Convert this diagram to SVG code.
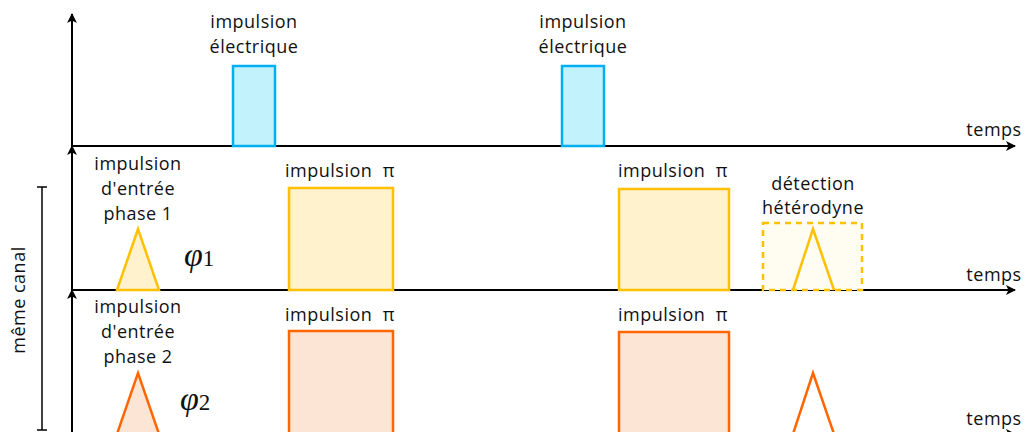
<svg xmlns="http://www.w3.org/2000/svg" width="1025" height="432" viewBox="0 0 1025 432">
<defs>
<marker id="ah" viewBox="0 0 10 10" refX="9" refY="5" markerWidth="10" markerHeight="10" markerUnits="userSpaceOnUse" orient="auto">
<path d="M0,0 L10,5 L0,10 L2.5,5 Z" fill="#000"/>
</marker>
</defs>
<style>
text{font-family:"Open Sans","Noto Sans",sans-serif;font-size:18px;letter-spacing:0.5px;fill:#111;text-anchor:middle}
.axis{stroke:#000;stroke-width:2;fill:none}
.blue{fill:#c2f2fc;stroke:#00b0f0;stroke-width:2.5}
.yel{fill:#fff2cc;stroke:#ffc000;stroke-width:2.5}
.org{fill:#fde5d5;stroke:#ff6600;stroke-width:2.5}
.dash{fill:#fffcf2;stroke:#ffc000;stroke-width:2.5;stroke-dasharray:6 5}
.phi{font-family:"Liberation Serif","DejaVu Serif",serif;font-style:italic;font-size:34px;letter-spacing:0;text-anchor:start}
.sub{font-style:normal;font-size:23px}
</style>
<g id="connectors">
<line class="axis" x1="72" y1="146" x2="72" y2="14" marker-end="url(#ah)"/>
<line class="axis" x1="72" y1="146" x2="1015" y2="146" marker-end="url(#ah)"/>
<line class="axis" x1="72" y1="290" x2="72" y2="146" marker-end="url(#ah)"/>
<line class="axis" x1="72" y1="290" x2="1015" y2="290" marker-end="url(#ah)"/>
<line class="axis" x1="72" y1="440" x2="72" y2="290" marker-end="url(#ah)"/>
<line class="axis" x1="72" y1="434" x2="1015" y2="434" marker-end="url(#ah)"/>
</g>
<g id="axis-labels">
<text x="994" y="136">temps</text>
<text x="994" y="281">temps</text>
<text x="994" y="425">temps</text>
</g>
<g id="bracket">
<line x1="42" y1="187" x2="42" y2="430" stroke="#000" stroke-width="1.5"/>
<line x1="37" y1="187" x2="47" y2="187" stroke="#000" stroke-width="1.5"/>
<line x1="37" y1="430" x2="47" y2="430" stroke="#000" stroke-width="1.5"/>
<text transform="translate(25,300) rotate(-90)">même canal</text>
</g>
<g id="elec1">
<rect class="blue" x="233" y="66" width="42" height="80"/>
<text x="254" y="28">impulsion</text>
<text x="254" y="53">électrique</text>
</g>
<g id="elec2">
<rect class="blue" x="562" y="66" width="42" height="80"/>
<text x="583" y="28">impulsion</text>
<text x="583" y="53">électrique</text>
</g>
<g id="input1">
<polygon class="yel" points="117,290 138,229 159,290"/>
<text x="138" y="170">impulsion</text>
<text x="138" y="195">d'entrée</text>
<text x="138" y="220">phase 1</text>
<text class="phi" x="184" y="266">φ<tspan class="sub">1</tspan></text>
</g>
<g id="pi1a">
<rect class="yel" x="289" y="188" width="104" height="102"/>
<text x="340" y="177">impulsion&#160; π</text>
</g>
<g id="pi1b">
<rect class="yel" x="619" y="189" width="110" height="101"/>
<text x="673" y="177">impulsion&#160; π</text>
</g>
<g id="detect">
<rect class="dash" x="763" y="223" width="99" height="67"/>
<polyline fill="none" stroke="#ffc000" stroke-width="2.5" points="793,290 813,229 834,290"/>
<text x="813" y="190">détection</text>
<text x="813" y="214">hétérodyne</text>
</g>
<g id="input2">
<polygon class="org" points="117,434 138,373 159,434"/>
<text x="138" y="313">impulsion</text>
<text x="138" y="338">d'entrée</text>
<text x="138" y="363">phase 2</text>
<text class="phi" x="180" y="410">φ<tspan class="sub">2</tspan></text>
</g>
<g id="pi2a">
<rect class="org" x="289" y="331" width="104" height="103"/>
<text x="340" y="321">impulsion&#160; π</text>
</g>
<g id="pi2b">
<rect class="org" x="619" y="332" width="110" height="102"/>
<text x="673" y="321">impulsion&#160; π</text>
</g>
<g id="out2">
<polyline fill="none" stroke="#ff6600" stroke-width="2.5" points="793,434 813,373 834,434"/>
</g>
</svg>
